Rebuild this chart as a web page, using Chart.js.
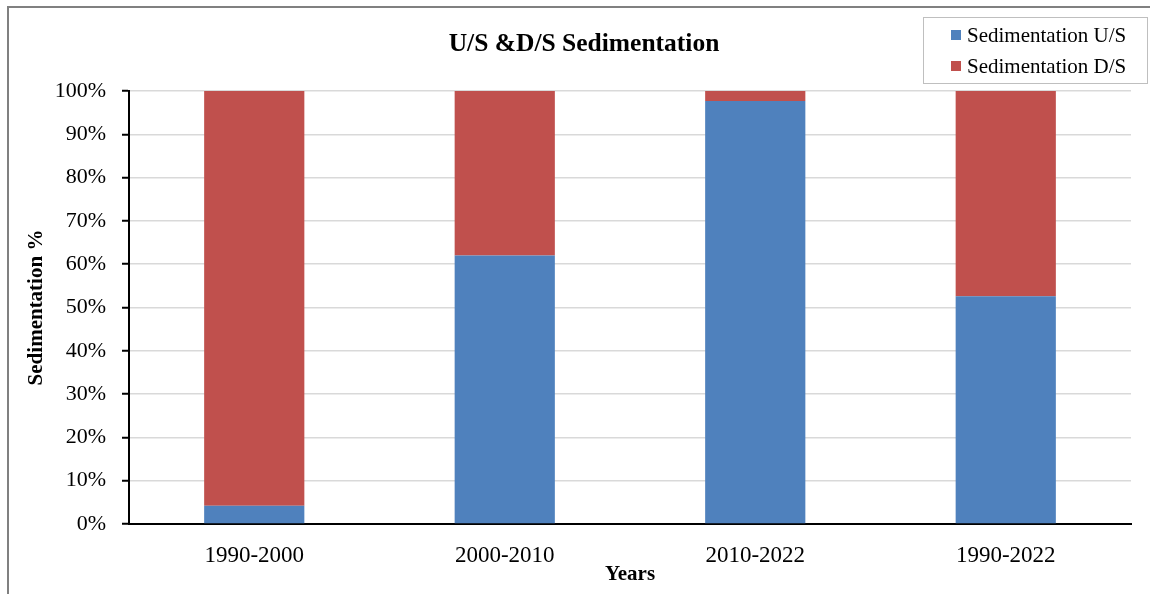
<!DOCTYPE html>
<html>
<head>
<meta charset="utf-8">
<title>U/S &amp; D/S Sedimentation</title>
<script src="https://cdn.jsdelivr.net/npm/chart.js@4.4.1/dist/chart.umd.min.js"></script>
<style>
  html, body { margin: 0; padding: 0; background: #fff; }
  #wrap {
    position: absolute; left: 7px; top: 6px;
    width: 1143px; height: 588px; box-sizing: border-box;
    border-left: 2px solid #808080; border-top: 2px solid #808080;
  }
  canvas { display: block; }
</style>
</head>
<body>
<div id="wrap"><canvas id="sedChart"></canvas></div>
<script>
const periods = ['1990-2000', '2000-2010', '2010-2022', '1990-2022'];
const upstreamPct = [4.2, 62.0, 97.7, 52.6];
const downstreamPct = [95.8, 38.0, 2.3, 47.4];
const yTickStep = 10;

const chartTitle = 'U/S &D/S Sedimentation';
const serif = '"Liberation Serif", "Times New Roman", serif';

// title and boxed legend drawn in the top band above the plot
const headerBand = {
    id: 'headerBand',
    afterDraw(chart) {
        const ctx = chart.ctx;
        ctx.save();
        ctx.fillStyle = '#000';
        ctx.font = 'bold 25.5px ' + serif;
        ctx.textAlign = 'center';
        ctx.textBaseline = 'middle';
        ctx.fillText(chartTitle, 575, 36);

        ctx.strokeStyle = '#bfbfbf';
        ctx.lineWidth = 1;
        ctx.strokeRect(914.5, 9.5, 224, 66);
        ctx.font = '21px ' + serif;
        ctx.textAlign = 'left';
        chart.data.datasets.forEach((ds, i) => {
            const y = 27 + i * 31;
            ctx.fillStyle = ds.backgroundColor;
            ctx.fillRect(942, y - 5, 10, 10);
            ctx.fillStyle = '#000';
            ctx.fillText(ds.label, 958, y + 1);
        });
        ctx.restore();
    }
};

const ctx = document.getElementById('sedChart').getContext('2d');
new Chart(ctx, {
    type: 'bar',
    data: {
        labels: periods,
        datasets: [{
            label: 'Sedimentation U/S',
            data: upstreamPct,
            backgroundColor: '#4F81BD',
            barPercentage: 0.4,
            categoryPercentage: 1
        }, {
            label: 'Sedimentation D/S',
            data: downstreamPct,
            backgroundColor: '#C0504D',
            barPercentage: 0.4,
            categoryPercentage: 1
        }]
    },
    options: {
        responsive: true,
        maintainAspectRatio: false,
        animation: false,
        layout: { padding: { left: 0, right: 19, top: 83, bottom: 0 } },
        plugins: {
            legend: { display: false },
            tooltip: { enabled: false },
            title: { display: false }
        },
        scales: {
            x: {
                stacked: true,
                grid: { display: false },
                border: { color: '#000', width: 2 },
                ticks: { color: '#000', padding: 10, font: { family: serif, size: 23 } },
                title: {
                    display: true,
                    text: 'Years',
                    color: '#000',
                    font: { family: serif, size: 21, weight: 'bold' },
                    padding: { top: 0, bottom: 7 }
                },
                afterFit: s => { s.height = 70; }
            },
            y: {
                stacked: true,
                min: 0,
                max: 100,
                grid: { color: '#d9d9d9', lineWidth: 1.5, tickColor: '#000', tickLength: 7, tickWidth: 2 },
                border: { color: '#000', width: 2 },
                ticks: {
                    stepSize: yTickStep,
                    color: '#000',
                    padding: 16,
                    font: { family: serif, size: 22 },
                    callback: v => v + '%'
                },
                title: {
                    display: true,
                    text: 'Sedimentation %',
                    color: '#000',
                    font: { family: serif, size: 21, weight: 'bold' },
                    padding: { top: 15, bottom: 0 }
                },
                afterFit: s => { s.width = 120; }
            }
        }
    },
    plugins: [headerBand]
});
</script>
</body>
</html>
